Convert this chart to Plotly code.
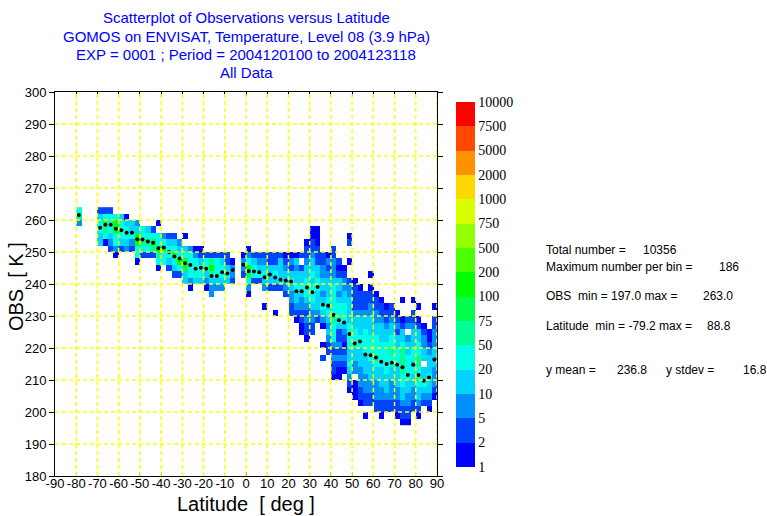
import plotly.graph_objects as go

# ---------------- data ----------------
# latitude bins (left edges, deg) and OBS bins (lower edges, K; top row first)
lat_bins = [-80.0, -77.5, -75.0, -72.5, -70.0, -67.5, -65.0, -62.5, -60.0, -57.5,
            -55.0, -52.5, -50.0, -47.5, -45.0, -42.5, -40.0, -37.5, -35.0, -32.5,
            -30.0, -27.5, -25.0, -22.5, -20.0, -17.5, -15.0, -12.5, -10.0, -7.5,
            -5.0, -2.5, 0.0, 2.5, 5.0, 7.5, 10.0, 12.5, 15.0, 17.5,
            20.0, 22.5, 25.0, 27.5, 30.0, 32.5, 35.0, 37.5, 40.0, 42.5,
            45.0, 47.5, 50.0, 52.5, 55.0, 57.5, 60.0, 62.5, 65.0, 67.5,
            70.0, 72.5, 75.0, 77.5, 80.0, 82.5, 85.0, 87.5]
obs_bins = [262, 260, 258, 256, 254, 252, 250, 248, 246, 244, 242, 240, 238, 236,
            234, 232, 230, 228, 226, 224, 222, 220, 218, 216, 214, 212, 210, 208,
            206, 204, 202, 200, 198, 196]

# colour class per cell, one string per latitude column, top row (262 K) first
# '.' = empty, '1'..'8' = count class 1-2, 2-5, 5-10, 10-20, 20-50, 50-75, 75-100, 100-200
cell_cols = [
    "563",
    "", "", "",
    "245544",
    "257651",
    "2555432",
    ".5885531",
    ".455542",
    ".145543",
    "..44532",
    "..3488551",
    "...55652",
    "...45652",
    "...25762",
    "..1.558651",
    "....35755",
    "....245542",
    "....2457542",
    ".....345852",
    "....1.457744",
    "......3555531",
    "......135554",
    "......124554",
    ".......255431",
    ".......2686433",
    ".......255543",
    ".......245543",
    ".......22454",
    "........1332",
    "",
    ".......1332",
    "......13587531",
    ".......24552",
    ".......23452",
    ".......234543..1",
    ".......224442",
    ".......224542...1",
    ".......244452",
    ".......1234432",
    ".......1324543322",
    ".......14344544321",
    ".......2.24454332211",
    ".....1223445554323221",
    "...11223445455543322",
    "...111222445544432",
    ".......223344345431..1.2",
    ".......1323444545434322",
    "......223334555556555323221",
    "........2124434555422323211",
    ".........12334455543212321",
    "....12..1..233444455554454321",
    "...........122223445554433.111",
    "............1222344455444333221",
    ".............222344555544433322.1",
    "..........1.1223344455554443322",
    ".............1223344555654433322",
    "..............1223444555544433221",
    "...............12234455555444322",
    "...............22344556554433322",
    "................12324455544433221",
    "..............1..12445666655443221",
    ".................23.34455554433221",
    "..............1.2234445545443322",
    "...............1.1244556656544321",
    "..................123344.445432",
    "...................1123444544321",
    "...............1.2233344433321",
]

# per-latitude-bin mean of OBS (black dots)
mean_lat = [-78.75, -68.75, -66.25, -63.75, -61.25, -58.75, -56.25, -53.75, -51.25, -48.75,
            -46.25, -43.75, -41.25, -38.75, -36.25, -33.75, -31.25, -28.75, -26.25, -23.75,
            -21.25, -18.75, -16.25, -13.75, -11.25, -8.75, -6.25, -1.25, 1.25, 3.75,
            6.25, 8.75, 11.25, 13.75, 16.25, 18.75, 21.25, 23.75, 26.25, 28.75,
            31.25, 33.75, 36.25, 38.75, 41.25, 43.75, 46.25, 48.75, 51.25, 53.75,
            56.25, 58.75, 61.25, 63.75, 66.25, 68.75, 71.25, 73.75, 76.25, 78.75,
            81.25, 83.75, 86.25, 88.75]
mean_obs = [261.6, 257.6, 258.5, 258.5, 257.3, 256.8, 256.0, 256.0, 254.0, 253.9,
            253.3, 252.9, 251.2, 251.4, 250.0, 248.6, 248.0, 246.5, 245.9, 244.8,
            245.1, 244.8, 242.5, 242.5, 243.7, 243.3, 244.4, 246.0, 244.0, 243.9,
            243.7, 242.1, 243.0, 242.0, 241.3, 241.1, 240.8, 237.7, 237.7, 238.9,
            237.4, 239.1, 233.5, 233.2, 230.3, 228.7, 228.0, 224.4, 221.4, 222.0,
            218.0, 217.7, 217.0, 215.7, 215.0, 215.4, 214.8, 214.0, 211.6, 214.8,
            211.6, 209.8, 210.8, 216.4]

level_labels = ["1", "2", "5", "10", "20", "50", "75", "100", "200", "500",
                "750", "1000", "2000", "5000", "7500", "10000"]
level_colors = ["#0000FF", "#0044FF", "#0090FF", "#00D4FF", "#00FFE4", "#00FF94",
                "#00FF4C", "#00FF00", "#4CFF00", "#94FF00", "#D8FF00", "#FFD800",
                "#FF9000", "#FF4800", "#FF0000"]

x_ticks = [-90, -80, -70, -60, -50, -40, -30, -20, -10, 0, 10, 20, 30, 40, 50, 60, 70, 80, 90]
y_ticks = [180, 190, 200, 210, 220, 230, 240, 250, 260, 270, 280, 290, 300]

title_lines = ["Scatterplot of Observations versus Latitude",
               "GOMOS on ENVISAT, Temperature, Level 08 (3.9 hPa)",
               "EXP = 0001 ; Period = 2004120100 to 2004123118",
               "All Data"]

stats_labels = ["Total number =", "Maximum number per bin =", "OBS\u00a0\u00a0min = 197.0 max =",
                "Latitude\u00a0\u00a0min = -79.2 max =", "y mean =", "y stdev ="]
stats_values = ["10356", "186", "263.0", "88.8", "236.8", "16.8"]

# ---------------- figure ----------------
nb = len(level_colors)
colorscale = []
for i, c in enumerate(level_colors):
    colorscale.append([i / nb, c])
    colorscale.append([(i + 1) / nb, c])

x_centers = [b + 1.25 for b in lat_bins]
y_centers = [b + 1.0 for b in obs_bins]
z = []
for r in range(len(obs_bins)):
    row = []
    for col in cell_cols:
        s = col.ljust(len(obs_bins), ".")
        ch = s[r]
        row.append(None if ch == "." else int(ch) - 0.5)
    z.append(row)

fig = go.Figure()
fig.add_trace(go.Heatmap(
    x=x_centers, y=y_centers, z=z, zmin=0, zmax=nb,
    colorscale=colorscale, hoverongaps=False,
    colorbar=dict(
        tickvals=list(range(nb + 1)), ticktext=level_labels,
        x=1.0497, xanchor="left", xpad=0, ypad=0,
        y=0.0242, yanchor="bottom", len=0.9505, lenmode="fraction",
        thickness=19, thicknessmode="pixels", outlinewidth=0, ticks="",
        tickfont=dict(family="Liberation Serif, Times New Roman, serif", size=14, color="black"),
    ),
))
fig.add_trace(go.Scatter(
    x=mean_lat, y=mean_obs, mode="markers",
    marker=dict(color="black", size=4), showlegend=False,
))

shapes = []
for xv in x_ticks[1:]:
    shapes.append(dict(type="line", xref="x", yref="paper", x0=xv, x1=xv, y0=0, y1=1,
                       line=dict(color="#FFFF00", width=1.5, dash="4px,3px"), layer="above"))
for yv in y_ticks[1:-1]:
    shapes.append(dict(type="line", xref="paper", yref="y", x0=0, x1=1, y0=yv, y1=yv,
                       line=dict(color="#FFFF00", width=1.5, dash="4px,3px"), layer="above"))

annotations = []
title_y = [1.1940, 1.1458, 1.0964, 1.0495]
for t, ty in zip(title_lines, title_y):
    annotations.append(dict(text=t, x=0.5, y=ty, xref="paper", yref="paper",
                            xanchor="center", yanchor="middle", showarrow=False,
                            font=dict(family="Liberation Sans", size=15, color="#0000FF")))

annotations.append(dict(text="Latitude\u00a0\u00a0[ deg ]", x=0.5, y=-0.074, xref="paper", yref="paper",
                        xanchor="center", yanchor="middle", showarrow=False,
                        font=dict(family="Liberation Sans", size=20, color="black")))
annotations.append(dict(text="OBS\u00a0\u00a0[ K ]", x=-0.1, y=0.494, xref="paper", yref="paper",
                        xanchor="center", yanchor="middle", showarrow=False, textangle=-90,
                        font=dict(family="Liberation Sans", size=20, color="black")))

stat_font = dict(family="Liberation Sans", size=12, color="black")
label_pos = [(1.2814, 0.5885), (1.2814, 0.5443), (1.2814, 0.4688), (1.2814, 0.3906),
             (1.2814, 0.2760), (1.5950, 0.2760)]
value_pos = [(1.5345, 0.5885), (1.7325, 0.5443), (1.6906, 0.4688), (1.7020, 0.3906),
             (1.4665, 0.2760), (1.7955, 0.2760)]
for t, (px, py) in zip(stats_labels, label_pos):
    annotations.append(dict(text=t, x=px, y=py, xref="paper", yref="paper",
                            xanchor="left", yanchor="middle", showarrow=False, font=stat_font))
for t, (px, py) in zip(stats_values, value_pos):
    annotations.append(dict(text=t, x=px, y=py, xref="paper", yref="paper",
                            xanchor="left", yanchor="middle", showarrow=False, font=stat_font))

tick_font = dict(family="Liberation Sans", size=13, color="black")
fig.update_layout(
    width=767, height=516,
    margin=dict(l=55, r=330, t=92, b=40),
    paper_bgcolor="white", plot_bgcolor="white",
    showlegend=False,
    xaxis=dict(range=[-90, 90], tickvals=x_ticks, ticktext=[str(v) for v in x_ticks],
               showgrid=False, zeroline=False, showline=True, linecolor="black", linewidth=1,
               mirror="ticks", ticks="inside", ticklen=4, tickcolor="black", tickwidth=1,
               tickfont=tick_font, ticklabelstandoff=-5),
    yaxis=dict(range=[180, 300], tickvals=y_ticks, ticktext=[str(v) for v in y_ticks],
               showgrid=False, zeroline=False, showline=True, linecolor="black", linewidth=1,
               mirror="ticks", ticks="outside", ticklen=5, tickcolor="black", tickwidth=1,
               tickfont=tick_font),
    shapes=shapes,
    annotations=annotations,
)

fig.write_html("out.html")
